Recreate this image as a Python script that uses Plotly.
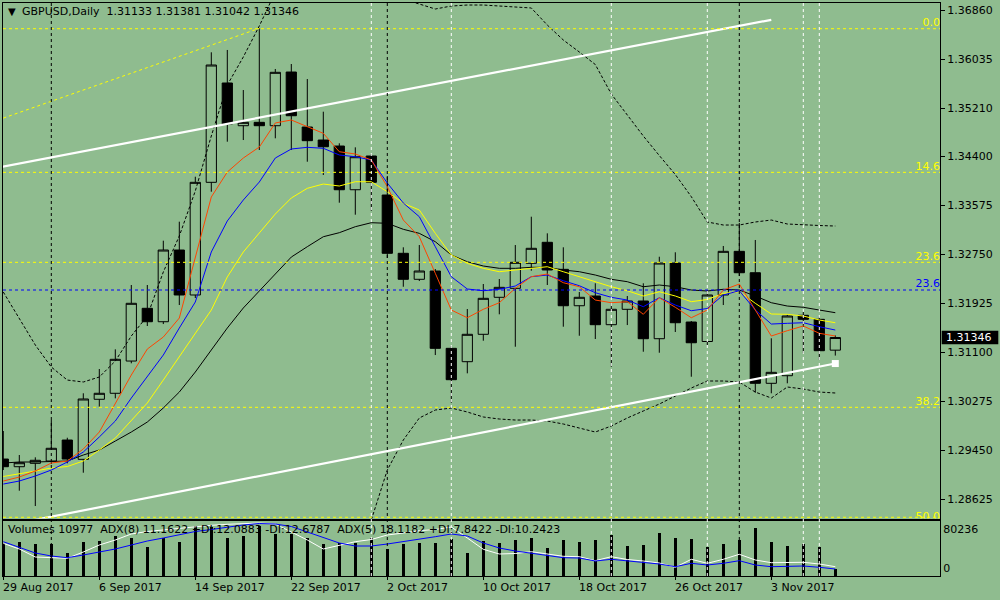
import numpy as np
import plotly.graph_objects as go

BG = "#8FBC8F"
FONT = "DejaVu Sans"

# ---------------- data ----------------
header_symbol = "GBPUSD,Daily"
header_ohlc = ["1.31133", "1.31381", "1.31042", "1.31346"]
last_price = 1.31346

dates = ["2017-08-29", "2017-08-30", "2017-08-31", "2017-09-01", "2017-09-04", "2017-09-05",
         "2017-09-06", "2017-09-07", "2017-09-08", "2017-09-11", "2017-09-12", "2017-09-13",
         "2017-09-14", "2017-09-15", "2017-09-18", "2017-09-19", "2017-09-20", "2017-09-21",
         "2017-09-22", "2017-09-25", "2017-09-26", "2017-09-27", "2017-09-28", "2017-09-29",
         "2017-10-02", "2017-10-03", "2017-10-04", "2017-10-05", "2017-10-06", "2017-10-09",
         "2017-10-10", "2017-10-11", "2017-10-12", "2017-10-13", "2017-10-16", "2017-10-17",
         "2017-10-18", "2017-10-19", "2017-10-20", "2017-10-23", "2017-10-24", "2017-10-25",
         "2017-10-26", "2017-10-27", "2017-10-30", "2017-10-31", "2017-11-01", "2017-11-02",
         "2017-11-03", "2017-11-06", "2017-11-07", "2017-11-08", "2017-11-09"]

opens = [1.29300, 1.29171, 1.29228, 1.29267, 1.29620, 1.29295, 1.30306, 1.30407, 1.30950, 1.31838,
         1.31612, 1.32819, 1.32062, 1.33959, 1.35631, 1.34912, 1.34969, 1.34912, 1.35816, 1.34890,
         1.34671, 1.34570, 1.33834, 1.34402, 1.33745, 1.32764, 1.32326, 1.32466, 1.31164, 1.30939,
         1.31400, 1.32023, 1.32174, 1.32595, 1.32949, 1.32494, 1.31881, 1.32045, 1.31562, 1.31821,
         1.31961, 1.31326, 1.32600, 1.31607, 1.31279, 1.32062, 1.32797, 1.32437, 1.30575, 1.30703,
         1.31720, 1.31652, 1.31133]
highs = [1.29772, 1.29368, 1.29329, 1.29957, 1.29659, 1.30407, 1.30816, 1.31147, 1.32230, 1.32230,
         1.32976, 1.33296, 1.34053, 1.36148, 1.36187, 1.35513, 1.36552, 1.35867, 1.35951, 1.35698,
         1.35148, 1.34616, 1.34548, 1.34436, 1.34065, 1.32865, 1.32903, 1.32499, 1.31203, 1.31826,
         1.32247, 1.32331, 1.32903, 1.33380, 1.33100, 1.32865, 1.32112, 1.32259, 1.31927, 1.32045,
         1.32259, 1.32706, 1.32781, 1.31624, 1.32146, 1.32887, 1.33274, 1.32988, 1.31333, 1.31725,
         1.31780, 1.31696, 1.31381]
lows = [1.29115, 1.28767, 1.28509, 1.29216, 1.29228, 1.29070, 1.30181, 1.30322, 1.30912, 1.31540,
        1.31573, 1.31893, 1.32011, 1.33801, 1.34643, 1.34671, 1.34503, 1.34700, 1.34503, 1.34306,
        1.34082, 1.33616, 1.33414, 1.33481, 1.32685, 1.32201, 1.32297, 1.31051, 1.30248, 1.30743,
        1.31292, 1.31737, 1.31191, 1.32471, 1.32230, 1.31528, 1.31376, 1.31321, 1.30854, 1.31556,
        1.31107, 1.31090, 1.31439, 1.30686, 1.31220, 1.31893, 1.32381, 1.30417, 1.30407, 1.30575,
        1.31080, 1.30967, 1.31042]
closes = [1.29171, 1.29238, 1.29279, 1.29481, 1.29300, 1.30311, 1.30407, 1.30979, 1.31922, 1.31612,
          1.32819, 1.32062, 1.33959, 1.35934, 1.34941, 1.34969, 1.34912, 1.35811, 1.35080, 1.34660,
          1.34558, 1.33834, 1.34390, 1.33959, 1.32764, 1.32326, 1.32466, 1.31164, 1.30636, 1.31400,
          1.32006, 1.32191, 1.32612, 1.32848, 1.32483, 1.31881, 1.32023, 1.31562, 1.31821, 1.31961,
          1.31326, 1.32600, 1.31595, 1.31258, 1.32062, 1.32797, 1.32437, 1.30575, 1.30760, 1.31708,
          1.31652, 1.31124, 1.31346]
volumes = [53500, 54600, 50800, 50800, 36900, 54600, 56200, 64200, 61500, 46500,
           61500, 54600, 80236, 78000, 61500, 64200, 80000, 66900, 66900, 61500,
           50800, 52400, 53500, 61500, 42800, 51900, 53500, 53500, 58800, 36900,
           56200, 53500, 57200, 61500, 45500, 57800, 54600, 57800, 65800, 48700,
           50300, 69000, 61000, 59400, 47100, 51400, 57800, 77600, 54600, 48700,
           51400, 47100, 10977]

ma_red = [1.28930, 1.28997, 1.29098, 1.29233, 1.29267, 1.29469, 1.29755, 1.30226, 1.30715, 1.31152,
          1.31354, 1.31674, 1.32685, 1.33712, 1.34132, 1.34368, 1.34553, 1.34958, 1.35008, 1.34895,
          1.34784, 1.34474, 1.34436, 1.34335, 1.33885, 1.33324, 1.33043, 1.32427, 1.31809, 1.31679,
          1.31821, 1.31932, 1.32174, 1.32370, 1.32415, 1.32269, 1.32201, 1.31977, 1.31932, 1.31949,
          1.31737, 1.32016, 1.31855, 1.31679, 1.31809, 1.32146, 1.32247, 1.31809, 1.31371, 1.31461,
          1.31540, 1.31417, 1.31371]
ma_blue = [1.28879, 1.28930, 1.29014, 1.29115, 1.29250, 1.29418, 1.29671, 1.29940, 1.30327, 1.30681,
           1.31051, 1.31506, 1.31944, 1.32786, 1.33308, 1.33661, 1.33964, 1.34368, 1.34520, 1.34548,
           1.34532, 1.34419, 1.34390, 1.34335, 1.33947, 1.33611, 1.33380, 1.32875, 1.32370, 1.32163,
           1.32134, 1.32158, 1.32213, 1.32370, 1.32398, 1.32302, 1.32218, 1.32100, 1.32023, 1.31977,
           1.31865, 1.32016, 1.31893, 1.31797, 1.31834, 1.32062, 1.32134, 1.31809, 1.31573, 1.31585,
           1.31595, 1.31528, 1.31472]
ma_yellow = [1.29006, 1.29048, 1.29098, 1.29149, 1.29174, 1.29267, 1.29452, 1.29654, 1.29940, 1.30243,
             1.30630, 1.31018, 1.31405, 1.31809, 1.32365, 1.32786, 1.33106, 1.33425, 1.33695, 1.33858,
             1.33930, 1.33897, 1.33969, 1.33969, 1.33801, 1.33606, 1.33493, 1.33100, 1.32735, 1.32595,
             1.32511, 1.32454, 1.32483, 1.32511, 1.32538, 1.32454, 1.32370, 1.32286, 1.32201, 1.32134,
             1.32045, 1.32117, 1.32045, 1.31949, 1.31986, 1.32090, 1.32117, 1.31922, 1.31742, 1.31737,
             1.31708, 1.31641, 1.31595]
ma_black = [1.29233, 1.29250, 1.29250, 1.29258, 1.29267, 1.29368, 1.29452, 1.29603, 1.29755, 1.29923,
            1.30159, 1.30428, 1.30765, 1.31136, 1.31506, 1.31843, 1.32129, 1.32432, 1.32701, 1.32875,
            1.33043, 1.33111, 1.33212, 1.33279, 1.33269, 1.33168, 1.33100, 1.32959, 1.32735, 1.32622,
            1.32550, 1.32511, 1.32511, 1.32528, 1.32528, 1.32483, 1.32454, 1.32398, 1.32326, 1.32286,
            1.32201, 1.32230, 1.32201, 1.32146, 1.32129, 1.32158, 1.32146, 1.32045, 1.31932, 1.31876,
            1.31855, 1.31809, 1.31764]
band_upper = [1.32112, 1.31674, 1.31220, 1.30849, 1.30630, 1.30597, 1.30681, 1.30950, 1.31371, 1.31708,
              1.32449, 1.33055, 1.33813, 1.34739, 1.35597, 1.36069, 1.36591, 1.37163, 1.37264, 1.37332,
              1.37365, 1.37332, 1.37264, 1.37180, 1.37113, 1.37045, 1.36961, 1.36877, 1.36927, 1.36944,
              1.36944, 1.36927, 1.36911, 1.36894, 1.36607, 1.36355, 1.36153, 1.35942, 1.35446, 1.35092,
              1.34739, 1.34410, 1.34090, 1.33717, 1.33291, 1.33240, 1.33240, 1.33291, 1.33324, 1.33257,
              1.33240, 1.33232, 1.33223]
band_lower = [1.26253, 1.26421, 1.26674, 1.26926, 1.27179, 1.27600, 1.27852, 1.27600, 1.27095, 1.26590,
              1.26085, 1.25579, 1.25243, 1.24906, 1.24569, 1.24401, 1.24233, 1.24233, 1.24569, 1.25243,
              1.26085, 1.26926, 1.27600, 1.28273, 1.29115, 1.29620, 1.29991, 1.30125, 1.30159, 1.30092,
              1.30008, 1.29974, 1.29957, 1.29957, 1.29940, 1.29890, 1.29822, 1.29755, 1.29856, 1.29991,
              1.30109, 1.30226, 1.30361, 1.30496, 1.30614, 1.30614, 1.30597, 1.30428, 1.30327, 1.30513,
              1.30479, 1.30428, 1.30412]

adx_white = [32.7, 27, 19, 18, 17.7, 24, 31, 36, 42, 44.5,
             46, 48, 49.7, 50.7, 51.7, 52.3, 53, 52, 44, 36,
             27, 31, 34.3, 36.5, 41, 43, 45.3, 46.5, 49, 38,
             26.7, 22, 22.5, 24.3, 22, 19.7, 19.3, 15.3, 19.3, 16.5,
             15, 13, 8.7, 16.7, 12.7, 16.7, 21.7, 16, 13.3, 13.3,
             13.7, 12, 9.3]
adx_blue = [34.3, 29, 23, 20, 18.3, 21, 23.7, 27, 31, 35,
            38, 41.5, 44.5, 46.5, 49, 51, 52.5, 52, 49.5, 44,
            38, 33, 30, 30, 32, 34.3, 37, 39.3, 42, 40,
            33, 28, 25, 22.7, 20.5, 18.3, 18, 15, 16.7, 15.3,
            13.7, 12, 9.3, 12.7, 11, 12.7, 15.3, 11, 9.3, 9.5,
            10, 8.7, 7]
indicator_legend = ("Volumes 10977\u00a0\u00a0ADX(8) 11.1622 +DI:12.0883 -DI:12.6787"
                    "\u00a0\u00a0ADX(5) 18.1182 +DI:7.8422 -DI:10.2423")

price_ticks = [1.36860, 1.36035, 1.35210, 1.34400, 1.33575, 1.32750,
               1.31925, 1.31100, 1.30275, 1.29450, 1.28625]
date_tick_dates = ["2017-08-29", "2017-09-06", "2017-09-14", "2017-09-22", "2017-10-02",
                   "2017-10-10", "2017-10-18", "2017-10-26", "2017-11-03"]
date_tick_text = ["29 Aug 2017", "6 Sep 2017", "14 Sep 2017", "22 Sep 2017", "2 Oct 2017",
                  "10 Oct 2017", "18 Oct 2017", "26 Oct 2017", "3 Nov 2017"]
vol_tick_vals = [75435, 12840]
vol_tick_text = ["80236", "0"]

fib_levels = [1.36545, 1.34127, 1.32612, 1.32146, 1.30171, 1.28320]
fib_labels = ["0.0", "14.6", "23.6", "23.6", "38.2", "50.0"]
fib_colors = ["#FFFF00", "#FFFF00", "#FFFF00", "#0000FF", "#FFFF00", "#FFFF00"]
fib_label_pos = ["top left", "top left", "top left", "top left", "top left", "middle left"]

channel_upper_dates = ["2017-08-28", "2017-11-03"]
channel_upper_prices = [1.34173, 1.36695]
channel_lower_dates = ["2017-08-29", "2017-11-09"]
channel_lower_prices = [1.28172, 1.30908]
fib_trend_dates = ["2017-08-29", "2017-09-20"]
fib_trend_prices = [1.35040, 1.36552]

period_sep_dates = ["2017-09-01", "2017-10-02", "2017-11-01"]
vline_dates = ["2017-09-29", "2017-10-06", "2017-10-20", "2017-10-30", "2017-11-07", "2017-11-08"]

# ---------------- helpers ----------------
d0 = np.datetime64(dates[0])


def pos(ds):
    return np.busday_count(d0, np.array(ds, dtype="datetime64[D]")).tolist()


def py(px):  # image pixel row -> paper y
    return (576 - px) / 573.0


def pxx(px):  # image pixel col -> paper x
    return (px - 3) / 937.0


xk = pos(dates)
X_MIN, X_MAX = -0.019, 58.544
Y_MIN, Y_MAX = 1.28299, 1.36978
VOL_MAX = 88757
ADX_MAX = 55.3

fig = go.Figure()

fig.add_trace(go.Candlestick(
    x=xk, open=opens, high=highs, low=lows, close=closes,
    increasing=dict(line=dict(color="black", width=1), fillcolor=BG),
    decreasing=dict(line=dict(color="black", width=1), fillcolor="black"),
    whiskerwidth=0, hoverinfo="skip", showlegend=False, xaxis="x", yaxis="y"))

for vals, col in [(ma_black, "black"), (ma_yellow, "#FFFF00"),
                  (ma_blue, "#0000FF"), (ma_red, "#FF4500")]:
    fig.add_trace(go.Scatter(x=xk, y=vals, mode="lines", line=dict(color=col, width=1),
                             hoverinfo="skip", showlegend=False, xaxis="x", yaxis="y"))

for vals in (band_upper, band_lower):
    fig.add_trace(go.Scatter(x=xk, y=vals, mode="lines",
                             line=dict(color="black", width=1, dash="3px,2px"),
                             hoverinfo="skip", showlegend=False, xaxis="x", yaxis="y"))

fig.add_trace(go.Scatter(x=pos(fib_trend_dates), y=fib_trend_prices, mode="lines",
                         line=dict(color="#FFFF00", width=1, dash="3px,3px"),
                         hoverinfo="skip", showlegend=False, xaxis="x", yaxis="y"))
for ds, ps in [(channel_upper_dates, channel_upper_prices),
               (channel_lower_dates, channel_lower_prices)]:
    fig.add_trace(go.Scatter(x=pos(ds), y=ps, mode="lines", line=dict(color="white", width=2.2),
                             hoverinfo="skip", showlegend=False, xaxis="x", yaxis="y"))
fig.add_trace(go.Scatter(x=pos(channel_lower_dates[-1:]), y=channel_lower_prices[-1:],
                         mode="markers", marker=dict(symbol="square", size=7, color="white"),
                         hoverinfo="skip", showlegend=False, xaxis="x", yaxis="y"))

fig.add_trace(go.Scatter(x=[X_MAX] * len(fib_levels), y=fib_levels, mode="text", text=fib_labels,
                         textposition=fib_label_pos,
                         textfont=dict(family=FONT, size=11, color=fib_colors),
                         cliponaxis=True, hoverinfo="skip", showlegend=False,
                         xaxis="x", yaxis="y"))

# volume panel
fig.add_trace(go.Bar(x=xk, y=volumes, width=0.19, marker=dict(color="black", line=dict(width=0)),
                     hoverinfo="skip", showlegend=False, xaxis="x2", yaxis="y2"))
fig.add_trace(go.Scatter(x=xk, y=adx_white, mode="lines", line=dict(color="white", width=1),
                         hoverinfo="skip", showlegend=False, xaxis="x2", yaxis="y3"))
fig.add_trace(go.Scatter(x=xk, y=adx_blue, mode="lines", line=dict(color="#0000FF", width=1),
                         hoverinfo="skip", showlegend=False, xaxis="x2", yaxis="y3"))

shapes = []
for lvl, col in zip(fib_levels, fib_colors):
    shapes.append(dict(type="line", xref="paper", x0=0, x1=1, yref="y", y0=lvl, y1=lvl,
                       line=dict(color=col, width=1, dash="3px,3px")))
for d in pos(vline_dates):
    shapes.append(dict(type="line", xref="x", x0=d, x1=d, yref="paper", y0=0, y1=1,
                       line=dict(color="white", width=1, dash="3px,3px")))
for d in pos(period_sep_dates):
    shapes.append(dict(type="line", xref="x", x0=d, x1=d, yref="paper", y0=0, y1=1,
                       line=dict(color="black", width=1, dash="3px,3px")))
# current price box on the axis
shapes.append(dict(type="rect", xref="paper", yref="paper",
                   x0=pxx(941.7), x1=pxx(998.3), y0=py(344.3), y1=py(330.7),
                   fillcolor="black", line=dict(width=0)))

annotations = [
    dict(xref="paper", yref="paper", x=pxx(6), y=py(12), text="\u25bc", showarrow=False,
         xanchor="left", yanchor="middle", font=dict(size=10)),
    dict(xref="paper", yref="paper", x=pxx(20), y=py(12),
         text=header_symbol + "\u00a0\u00a0" + "\u00a0".join(header_ohlc), showarrow=False,
         xanchor="left", yanchor="middle"),
    dict(xref="paper", yref="paper", x=pxx(6), y=py(529.5), text=indicator_legend,
         showarrow=False, xanchor="left", yanchor="middle"),
    dict(xref="paper", yref="paper", x=pxx(944), y=py(337.5), text=f"{last_price:.5f}",
         showarrow=False, xanchor="left", yanchor="middle", font=dict(color="white")),
]
for d, t in zip(pos(date_tick_dates), date_tick_text):
    annotations.append(dict(xref="x2", yref="paper", x=d, y=py(587.5), text=t, showarrow=False,
                            xanchor="left", yanchor="middle", xshift=-2))

axis_common = dict(showgrid=False, zeroline=False, showline=True, mirror=True,
                   linecolor="black", linewidth=1)

fig.update_layout(
    width=1000, height=600,
    margin=dict(l=3, r=60, t=3, b=24),
    paper_bgcolor=BG, plot_bgcolor=BG,
    showlegend=False,
    font=dict(family=FONT, size=11, color="black"),
    boxgap=0.36, boxgroupgap=0,
    bargap=0,
    xaxis=dict(domain=[0, 1], range=[X_MIN, X_MAX], anchor="y", showticklabels=False,
               ticks="", rangeslider=dict(visible=False), **axis_common),
    yaxis=dict(domain=[py(518.5), 1], range=[Y_MIN, Y_MAX], anchor="x", side="right",
               ticks="outside", ticklen=4, tickcolor="black", tickvals=price_ticks,
               ticktext=[f"{v:.5f}" for v in price_ticks], **axis_common),
    xaxis2=dict(domain=[0, 1], range=[X_MIN, X_MAX], anchor="y2", ticks="outside", ticklen=3,
                tickcolor="black", tickvals=pos(date_tick_dates), showticklabels=False,
                **axis_common),
    yaxis2=dict(domain=[0, py(520.7)], range=[0, VOL_MAX], anchor="x2", side="right",
                ticks="", tickvals=vol_tick_vals, ticktext=vol_tick_text, **axis_common),
    yaxis3=dict(overlaying="y2", anchor="x2", range=[0, ADX_MAX], visible=False,
                showgrid=False, zeroline=False),
    shapes=shapes,
    annotations=annotations,
)

fig.write_html("out.html", config={"displayModeBar": False, "staticPlot": True},
               post_script="document.body.style.margin='0';document.body.style.background='%s';" % BG)
